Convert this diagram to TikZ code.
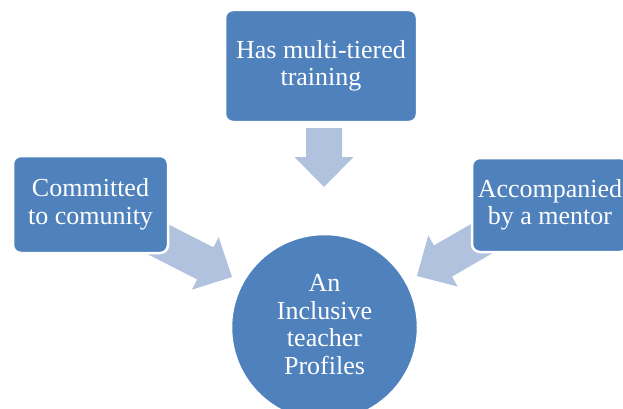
\documentclass[tikz,border=0pt]{standalone}
\usepackage{fontspec}
\setmainfont{Liberation Serif}
\definecolor{boxblue}{HTML}{4F81BD}
\definecolor{arrowblue}{HTML}{B1C2DF}
% block arrow: tail coordinate, direction angle, total length
\newcommand\blockarrow[3]{%
  \begin{scope}[shift={(#1)}, rotate=#2]
    \fill[arrowfill] (0,-18) -- ({#3-30},-18) -- ({#3-30},-29.5) -- (#3,0)
      -- ({#3-30},29.5) -- ({#3-30},18) -- (0,18) -- cycle;
  \end{scope}}
\begin{document}
\begin{tikzpicture}[x=1pt,y=-1pt,
  labelfont/.style={font=\fontsize{26}{27.5}\selectfont},
  stepbox/.style={rectangle, rounded corners=8pt, fill=boxblue, draw=white,
    line width=2.5pt, text=white, align=center, inner sep=0pt, labelfont},
  hub/.style={circle, fill=boxblue, draw=white, line width=2.5pt,
    inner sep=0pt, minimum size=187pt},
  hubtext/.style={text=white, align=center, inner sep=0pt, labelfont},
  arrowfill/.style={fill=arrowblue}]
\useasboundingbox (0,0) rectangle (623,409);

% arrows pointing towards the central profile
\coordinate (tailTop) at (324,128);
\coordinate (tailLeft) at (142.9,231.6);
\coordinate (tailRight) at (503.6,226);
\blockarrow{tailTop}{-90}{59}
\blockarrow{tailLeft}{-27}{100}
\blockarrow{tailRight}{210}{100}

% the three traits
\node[stepbox, minimum width=192pt, minimum height=112pt] (training) at (321,66)
  {Has multi-tiered\\training};
\node[stepbox, minimum width=155pt, minimum height=97pt] (community) at (90.5,204.5)
  {Committed\\to comunity};
\node[stepbox, minimum width=156pt, minimum height=94pt] (mentor) at (550,205)
  {Accompanied\\by a mentor};

% central profile
\node[hub] (profile) at (324.5,327.5) {};
\node[hubtext] (profiletext) at ([yshift=3pt]profile.center)
  {An\\Inclusive\\teacher\\Profiles};
\end{tikzpicture}
\end{document}
